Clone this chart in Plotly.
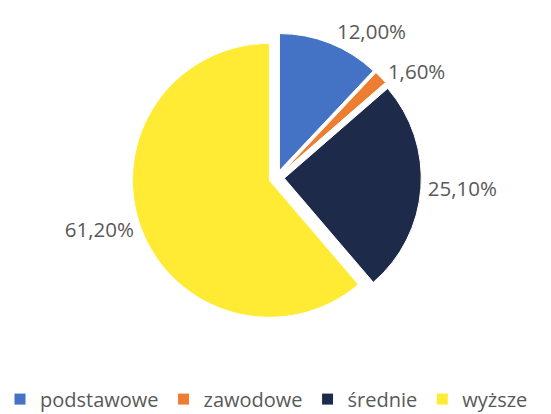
import plotly.graph_objects as go

categories = ["podstawowe", "zawodowe", "średnie", "wyższe"]
values = [12.0, 1.6, 25.1, 61.2]
label_texts = ["12,00%", "1,60%", "25,10%", "61,20%"]
colors = ["#4472C4", "#ED7D31", "#1D2A4A", "#FFEB34"]

fig = go.Figure(go.Pie(
    labels=categories,
    values=values,
    text=label_texts,
    texttemplate="%{text}",
    textinfo="text",
    textposition="outside",
    sort=False,
    direction="clockwise",
    rotation=0,
    pull=[0.056] * 4,
    marker=dict(colors=colors, line=dict(color="white", width=1)),
    outsidetextfont=dict(family="Open Sans", size=20.5, color="#595959"),
    domain=dict(x=[0.004, 1.0], y=[0.2214, 0.9202]),
    hoverinfo="label+text",
))

fig.update_layout(
    width=551, height=414,
    margin=dict(l=0, r=0, t=0, b=0, autoexpand=False),
    paper_bgcolor="white",
    plot_bgcolor="white",
    font=dict(family="Open Sans", size=20, color="#595959"),
    showlegend=True,
    legend=dict(
        orientation="h",
        x=0, xanchor="left",
        y=0.036, yanchor="middle",
        font=dict(family="Open Sans", size=20, color="#595959"),
        itemwidth=30,
    ),
)

fig.write_html(
    "out.html",
    config={"displayModeBar": False},
    post_script="document.body.style.margin='0';document.body.style.overflow='hidden';",
)
